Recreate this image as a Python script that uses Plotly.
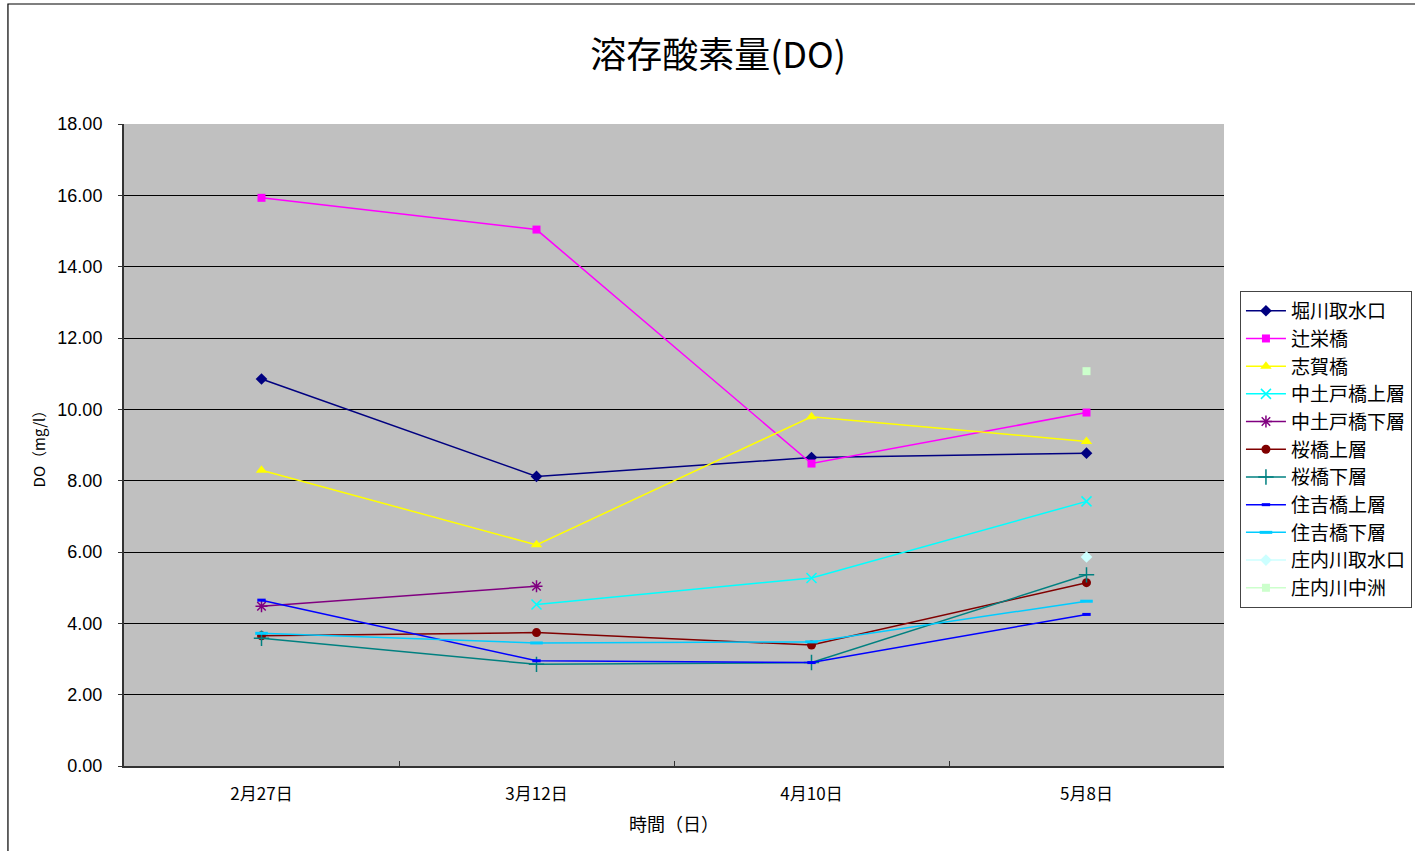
import plotly.graph_objects as go

dates = ["2月27日", "3月12日", "4月10日", "5月8日"]

horikawa = [10.85, 8.12, 8.65, 8.77]
tsujiei = [15.93, 15.04, 8.48, 9.91]
shiga = [8.29, 6.20, 9.79, 9.10]
nakatsuto_upper = [None, 4.53, 5.27, 7.42]
nakatsuto_lower = [4.48, 5.04, None, None]
sakura_upper = [3.65, 3.74, 3.39, 5.14]
sakura_lower = [3.58, 2.85, 2.90, 5.36]
sumiyoshi_upper = [4.65, 2.95, 2.90, 4.25]
sumiyoshi_lower = [3.72, 3.45, 3.48, 4.62]
shonai_intake = [None, None, None, 5.86]
shonai_nakasu = [None, None, None, 11.07]

series = [
    ("堀川取水口", horikawa, "#000080", "diamond", 9, 0),
    ("辻栄橋", tsujiei, "#FF00FF", "square", 8, 0),
    ("志賀橋", shiga, "#FFFF00", "triangle-up", 10, 0),
    ("中土戸橋上層", nakatsuto_upper, "#00FFFF", "x-thin-open", 10, 1.5),
    ("中土戸橋下層", nakatsuto_lower, "#800080", "asterisk-open", 10, 1.5),
    ("桜橋上層", sakura_upper, "#800000", "circle", 9, 0),
    ("桜橋下層", sakura_lower, "#008080", "cross-thin-open", 11, 1.5),
    ("住吉橋上層", sumiyoshi_upper, "#0000FF", "line-ew-open", 6, 3),
    ("住吉橋下層", sumiyoshi_lower, "#00CCFF", "line-ew-open", 9, 3),
    ("庄内川取水口", shonai_intake, "#CCFFFF", "diamond", 9, 0),
    ("庄内川中洲", shonai_nakasu, "#CCFFCC", "square", 8, 0),
]

fig = go.Figure()
for name, vals, color, symbol, size, lw in series:
    marker = dict(symbol=symbol, size=size, color=color)
    if lw:
        marker["line"] = dict(color=color, width=lw)
    else:
        marker["line"] = dict(width=0)
    fig.add_trace(go.Scatter(
        x=dates, y=vals, name=name, mode="lines+markers",
        line=dict(color=color, width=1.5),
        marker=marker,
    ))

jp = "Noto Sans CJK JP"
num = "Liberation Sans"

fig.update_layout(
    width=1415, height=851,
    margin=dict(l=124, r=191, t=124, b=85, autoexpand=False),
    paper_bgcolor="white",
    plot_bgcolor="#C0C0C0",
    title=dict(text="溶存酸素量(DO)", x=0.5075, xanchor="center", y=0.935, yanchor="middle",
               font=dict(family=jp, size=36, color="black")),
    legend=dict(
        x=1.0145, xanchor="left", y=0.74, yanchor="top",
        bgcolor="white", bordercolor="#444444", borderwidth=1,
        font=dict(family=jp, size=19, color="black"),
        tracegroupgap=0, itemwidth=40,
    ),
    showlegend=True,
)

fig.update_xaxes(
    type="category", range=[-0.5, 3.5],
    tickson="boundaries", ticks="inside", ticklen=5, tickcolor="#333333",
    showline=True, linecolor="#333333", linewidth=2,
    showgrid=False, zeroline=False,
    ticklabelstandoff=12,
    tickfont=dict(family=jp, size=17, color="black"),
    title=dict(text="時間（日）", font=dict(family=jp, size=18, color="black"), standoff=14),
)
fig.update_yaxes(
    range=[0, 18], dtick=2, tickformat=".2f",
    ticks="outside", ticklen=4, tickcolor="#333333",
    showline=True, linecolor="#333333", linewidth=2,
    showgrid=True, gridcolor="black", gridwidth=1, zeroline=False,
    ticklabelstandoff=12,
    tickfont=dict(family=num, size=18, color="black"),
    title=dict(text="DO（mg/l）", font=dict(family=jp, size=15, color="black"), standoff=8),
)

# outer chart frame
fig.add_shape(type="rect", xref="paper", yref="paper",
              x0=-0.1055, x1=1.2, y0=-0.2, y1=1.1869,
              line=dict(color="black", width=1.2), fillcolor="rgba(0,0,0,0)", layer="below")

fig.write_html("out.html")
